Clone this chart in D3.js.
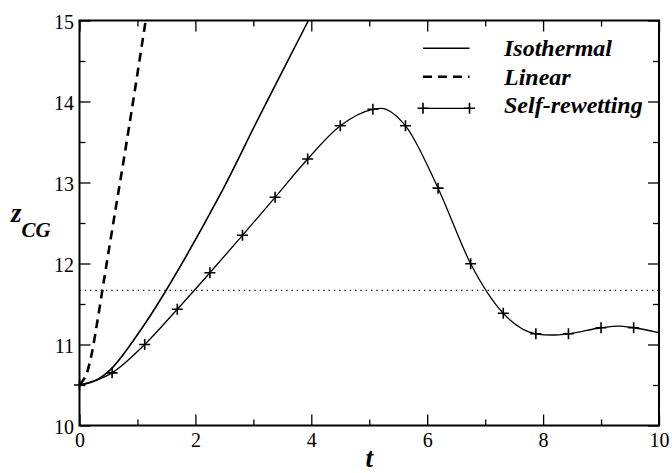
<!DOCTYPE html>
<html><head><meta charset="utf-8">
<script src="https://cdn.jsdelivr.net/npm/d3@7"></script>
<style>
body{margin:0;background:#fff}svg{display:block}
svg text{font-family:"Liberation Serif","DejaVu Serif","Times New Roman",serif !important;}
</style>
</head><body>
<svg id="chart" width="672" height="473"></svg>
<script>
// ---------- data ----------
const xMajorTicks = [0, 2, 4, 6, 8, 10];
const xMinorTicks = [1, 3, 5, 7, 9];
const yMajorTicks = [10, 11, 12, 13, 14, 15];
const yMinorTicks = [10.5, 11.5, 12.5, 13.5, 14.5];

// Isothermal (solid)
const isoT = [0, 0.25, 0.556, 1.056, 1.493, 2.424, 3.115, 3.95, 4.2];
const isoZ = [10.5, 10.545, 10.706, 11.18, 11.667, 12.846, 13.833, 15.0, 15.36];

// Linear (dashed)
const linT = [0, 0.1, 0.2, 0.3, 0.394, 0.469, 0.62, 0.768, 0.927, 1.142, 1.2];
const linZ = [10.5, 10.6, 10.85, 11.25, 11.667, 12.0, 12.66, 13.30, 14.01, 15.0, 15.27];

// Self-rewetting markers
const srT = [0, 0.5625, 1.125, 1.6875, 2.25, 2.8125, 3.375, 3.9375, 4.5, 5.0625, 5.625, 6.1875, 6.75, 7.3125, 7.875, 8.4375, 9.0, 9.5625];
const srZ = [10.5, 10.65, 11.0, 11.435, 11.886, 12.348, 12.817, 13.29, 13.70, 13.904, 13.70, 12.93, 11.997, 11.385, 11.132, 11.132, 11.207, 11.207];
// Self-rewetting curve (markers plus extra points)
const srLineT = [0, 0.5625, 1.125, 1.6875, 2.25, 2.8125, 3.375, 3.9375, 4.5, 5.0625, 5.2, 5.625, 6.1875, 6.75, 7.3125, 7.875, 8.15, 8.4375, 9.0, 9.3, 9.5625, 10];
const srLineZ = [10.5, 10.65, 11.0, 11.435, 11.886, 12.348, 12.817, 13.29, 13.70, 13.904, 13.916, 13.70, 12.93, 11.997, 11.385, 11.132, 11.117, 11.132, 11.207, 11.228, 11.207, 11.146];

const refLevel = 11.667;
const legendLabels = ["Isothermal", "Linear", "Self-rewetting"];

// ---------- layout ----------
const svg = d3.select("#chart");
const L = 79.5, R = 659, T = 20.5, B = 425.5;
const x = d3.scaleLinear().domain([0, 10]).range([L, R]);
const y = d3.scaleLinear().domain([10, 15]).range([B, T]);
const serif = "Liberation Serif, DejaVu Serif, serif";

svg.append("defs").append("clipPath").attr("id", "clip")
  .append("rect").attr("x", L).attr("y", T).attr("width", R - L).attr("height", B - T);

function styleAxis(g) {
  g.attr("font-family", null).attr("font-size", null);
  g.select(".domain").remove();
  g.selectAll(".tick line").attr("stroke", "#000").attr("stroke-width", 1.3);
  g.selectAll("text").style("font-family", serif).style("font-size", "20px").attr("fill", "#000");
}

// bottom
svg.append("g").attr("transform", `translate(0,${B})`)
  .call(d3.axisBottom(x).tickValues(xMajorTicks).tickSize(-11).tickPadding(7).tickFormat(d3.format("d")))
  .call(styleAxis);
svg.append("g").attr("transform", `translate(0,${B})`)
  .call(d3.axisBottom(x).tickValues(xMinorTicks).tickSize(-6).tickFormat(""))
  .call(styleAxis);
// top
svg.append("g").attr("transform", `translate(0,${T})`)
  .call(d3.axisTop(x).tickValues(xMajorTicks).tickSize(-11).tickFormat(""))
  .call(styleAxis);
svg.append("g").attr("transform", `translate(0,${T})`)
  .call(d3.axisTop(x).tickValues(xMinorTicks).tickSize(-6).tickFormat(""))
  .call(styleAxis);
// left
const gl = svg.append("g").attr("transform", `translate(${L},0)`)
  .call(d3.axisLeft(y).tickValues(yMajorTicks).tickSize(-11).tickPadding(5.5).tickFormat(d3.format("d")))
  .call(styleAxis);
gl.selectAll("text").attr("dy", "0.4em");
svg.append("g").attr("transform", `translate(${L},0)`)
  .call(d3.axisLeft(y).tickValues(yMinorTicks).tickSize(-6).tickFormat(""))
  .call(styleAxis);
// right
svg.append("g").attr("transform", `translate(${R},0)`)
  .call(d3.axisRight(y).tickValues(yMajorTicks).tickSize(-11).tickFormat(""))
  .call(styleAxis);
svg.append("g").attr("transform", `translate(${R},0)`)
  .call(d3.axisRight(y).tickValues(yMinorTicks).tickSize(-6).tickFormat(""))
  .call(styleAxis);

// reference dotted line
svg.append("line")
  .attr("x1", x(0)).attr("x2", x(10)).attr("y1", y(refLevel)).attr("y2", y(refLevel))
  .attr("stroke", "#000").attr("stroke-width", 1.2).attr("stroke-dasharray", "1.3,4");

const plot = svg.append("g").attr("clip-path", "url(#clip)");
const zip = (a, b) => a.map((v, i) => [v, b[i]]);

const lineCR = d3.line().x(d => x(d[0])).y(d => y(d[1])).curve(d3.curveCatmullRom.alpha(0.5));
const lineMono = d3.line().x(d => x(d[0])).y(d => y(d[1])).curve(d3.curveMonotoneX);

plot.append("path").attr("d", lineCR(zip(isoT, isoZ)))
  .attr("fill", "none").attr("stroke", "#000").attr("stroke-width", 1.6);
plot.append("path").attr("d", lineCR(zip(linT, linZ)))
  .attr("fill", "none").attr("stroke", "#000").attr("stroke-width", 2.6).attr("stroke-dasharray", "9,6");
plot.append("path").attr("d", lineMono(zip(srLineT, srLineZ)))
  .attr("fill", "none").attr("stroke", "#000").attr("stroke-width", 1.3);

const ms = 5.5;
function plus(g, cx, cy) {
  g.append("path").attr("d", `M${cx - ms},${cy}H${cx + ms}M${cx},${cy - ms}V${cy + ms}`)
    .attr("stroke", "#000").attr("stroke-width", 1.6).attr("fill", "none");
}
const mk = svg.append("g");
zip(srT, srZ).forEach(d => plus(mk, x(d[0]), y(d[1])));

// frame
svg.append("rect").attr("x", L).attr("y", T).attr("width", R - L).attr("height", B - T)
  .attr("fill", "none").attr("stroke", "#000").attr("stroke-width", 2);

// legend
const lx1 = 423, lx2 = 469.5, tx = 504;
const lineYs = [48.3, 76.7, 108.3];
const textYs = [56.2, 84.5, 112.8];
const lg = svg.append("g");
lg.append("line").attr("x1", lx1).attr("x2", lx2).attr("y1", lineYs[0]).attr("y2", lineYs[0])
  .attr("stroke", "#000").attr("stroke-width", 1.6);
lg.append("line").attr("x1", lx1).attr("x2", lx2).attr("y1", lineYs[1]).attr("y2", lineYs[1])
  .attr("stroke", "#000").attr("stroke-width", 2.6).attr("stroke-dasharray", "9,6");
lg.append("line").attr("x1", lx1).attr("x2", lx2).attr("y1", lineYs[2]).attr("y2", lineYs[2])
  .attr("stroke", "#000").attr("stroke-width", 1.3);
plus(lg, lx1, lineYs[2]);
plus(lg, lx2, lineYs[2]);
legendLabels.forEach((s, i) => {
  lg.append("text").attr("x", tx).attr("y", textYs[i]).text(s)
    .style("font-family", serif).style("font-size", "24px").style("font-weight", "bold")
    .style("font-style", "italic").attr("fill", "#000");
});

// axis titles
svg.append("text").attr("x", (L + R) / 2).attr("y", 467).attr("text-anchor", "middle")
  .style("font-family", serif).style("font-size", "27px").style("font-weight", "bold").style("font-style", "italic")
  .text("t");
const zt = svg.append("text").attr("x", 11).attr("y", 221.7)
  .style("font-family", serif).style("font-size", "27px").style("font-weight", "bold").style("font-style", "italic");
zt.append("tspan").text("z");
zt.append("tspan").style("font-size", "21px").attr("dy", 15.6).text("CG");
</script>
</body></html>
